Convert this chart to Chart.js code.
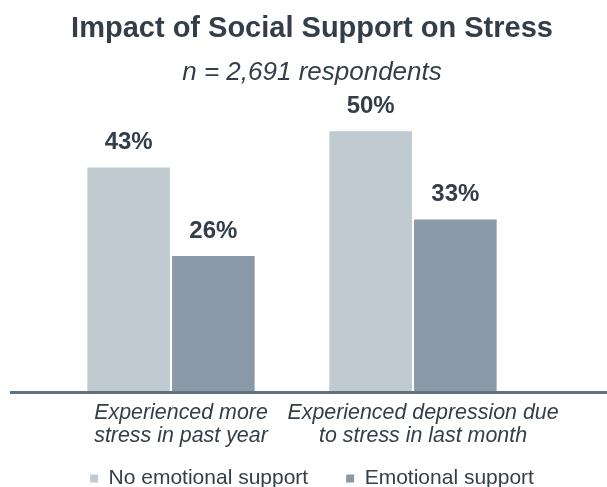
<!DOCTYPE html>
<html>
<head>
<meta charset="utf-8">
<script src="https://cdn.jsdelivr.net/npm/chart.js@4.4.1/dist/chart.umd.min.js"></script>
<style>
    html, body { margin: 0; padding: 0; background: #ffffff; overflow: hidden; }
    #graficoPai { width: 607px; height: 499px; position: relative; }
</style>
</head>
<body>
<div id="graficoPai">
    <canvas id="graficoStress"></canvas>
</div>
<script>
// dados do grafico
var categorias = [
    ['Experienced more', 'stress in past year'],
    ['Experienced depression due', 'to stress in last month']
]
var semApoio = [43, 50]
var comApoio = [26, 33]
var nomesSeries = ['No emotional support', 'Emotional support']

var corClara = '#bfcad1'
var corEscura = '#8999a7'
var corTexto = '#333e48'
var corEixo = '#63727f'
var fonte = '"Liberation Sans", Arial, sans-serif'

// rotulos de porcentagem em cima das barras
var rotulosBarras = {
    id: 'rotulosBarras',
    afterDatasetsDraw: function (chart) {
        var ctx = chart.ctx
        ctx.save()
        ctx.font = 'bold 24px ' + fonte
        ctx.fillStyle = corTexto
        ctx.textAlign = 'center'
        ctx.textBaseline = 'middle'
        chart.data.datasets.forEach(function (ds, i) {
            var meta = chart.getDatasetMeta(i)
            meta.data.forEach(function (barra, j) {
                ctx.fillText(ds.data[j] + '%', barra.x, barra.y - 25)
            })
        })
        ctx.restore()
    }
}

// linha de base que atravessa o grafico
var linhaBase = {
    id: 'linhaBase',
    afterDraw: function (chart) {
        var ctx = chart.ctx
        var y = chart.scales.y.getPixelForValue(0) + 1.5
        ctx.save()
        ctx.strokeStyle = corEixo
        ctx.lineWidth = 3
        ctx.beginPath()
        ctx.moveTo(10, y)
        ctx.lineTo(chart.width, y)
        ctx.stroke()
        ctx.restore()
    }
}

var dados = {
    labels: categorias,
    datasets: [{
        label: nomesSeries[0],
        data: semApoio,
        backgroundColor: corClara,
        categoryPercentage: 0.7,
        barPercentage: 0.975
    }, {
        label: nomesSeries[1],
        data: comApoio,
        backgroundColor: corEscura,
        categoryPercentage: 0.7,
        barPercentage: 0.975
    }]
}

const config = {
    type: 'bar',
    data: dados,
    options: {
        responsive: true,
        maintainAspectRatio: false,
        animation: false,
        layout: { padding: { left: 50, right: 33, top: 0, bottom: 0 } },
        scales: {
            x: {
                grid: { display: false, drawTicks: false },
                border: { display: false },
                ticks: {
                    color: corTexto,
                    padding: 10,
                    labelOffset: 10,
                    maxRotation: 0,
                    minRotation: 0,
                    autoSkip: false,
                    font: { family: fonte, size: 21.4, style: 'italic', lineHeight: 1.1 }
                },
                // eixo mais baixo para a legenda caber, sem cortar a segunda linha
                afterFit: function (scale) {
                    scale.height = 39
                    scale._computeLabelArea = function () { return undefined }
                }
            },
            y: {
                position: 'right',
                min: 0,
                max: 56,
                grid: { display: false, drawTicks: false },
                border: { display: false },
                ticks: { display: false },
                afterFit: function (scale) { scale.width = 40 }
            }
        },
        plugins: {
            title: {
                display: true,
                text: 'Impact of Social Support on Stress',
                color: corTexto,
                font: { family: fonte, size: 29, weight: 'bold', lineHeight: 1.2 },
                padding: { top: 12, bottom: 0 }
            },
            subtitle: {
                display: true,
                text: 'n = 2,691 respondents',
                color: corTexto,
                font: { family: fonte, size: 26, style: 'italic', lineHeight: 1.2 },
                padding: { top: 10, bottom: 12 }
            },
            legend: {
                position: 'bottom',
                labels: {
                    color: corTexto,
                    boxWidth: 8,
                    boxHeight: 8,
                    padding: 38,
                    font: { family: fonte, size: 21 }
                }
            },
            tooltip: { enabled: false }
        }
    },
    plugins: [rotulosBarras, linhaBase]
}

var myChart = new Chart(document.getElementById('graficoStress'), config)
</script>
</body>
</html>
